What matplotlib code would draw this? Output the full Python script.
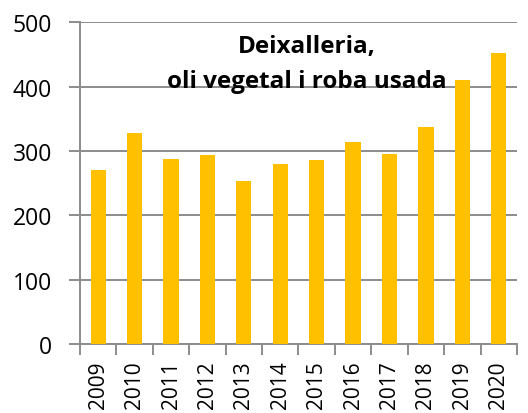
import matplotlib.pyplot as plt
import numpy as np

years = ['2009', '2010', '2011', '2012', '2013', '2014',
         '2015', '2016', '2017', '2018', '2019', '2020']
values = [271, 328, 288, 294, 254, 280, 286, 314, 296, 337, 411, 452]
title_lines = ['Deixalleria,', 'oli vegetal i roba usada']

plt.rcParams['font.family'] = ['Open Sans', 'DejaVu Sans']

fig = plt.figure(figsize=(5.28, 4.14), dpi=100)
ax = fig.add_axes([0.1515, 0.1667, 0.8275, 0.777])

x = np.arange(len(years))
ax.bar(x, values, width=0.42, color='#FFC000', zorder=3)

ax.set_xlim(-0.5, len(years) - 0.5)
ax.set_ylim(0, 500)
ax.set_yticks(np.arange(0, 501, 100))
ax.yaxis.grid(True, color='#8c8c8c', lw=1.4, zorder=0)

ax.set_xticks(x)
ax.set_xticklabels(years, rotation=90, fontsize=15, va='top')
ax.set_xticks(np.arange(-0.5, len(years), 1), minor=True)
ax.tick_params(axis='x', which='major', length=0, pad=12)
ax.tick_params(axis='x', which='minor', length=8, width=1.4, color='#8c8c8c')
ax.tick_params(axis='y', length=8, width=1.4, color='#8c8c8c', labelsize=16.5, pad=12)

for s in ['top', 'right']:
    ax.spines[s].set_visible(False)
for s in ['left', 'bottom']:
    ax.spines[s].set_color('#8c8c8c')
    ax.spines[s].set_linewidth(1.4)

# title inside the plot, two lines
ax.text(5.74, 454, title_lines[0], ha='center', va='baseline',
        fontsize=17.5, fontweight='bold', zorder=5)
ax.text(5.74, 400, title_lines[1], ha='center', va='baseline',
        fontsize=17.5, fontweight='bold', zorder=5)

fig.savefig('out.png', dpi=100)
